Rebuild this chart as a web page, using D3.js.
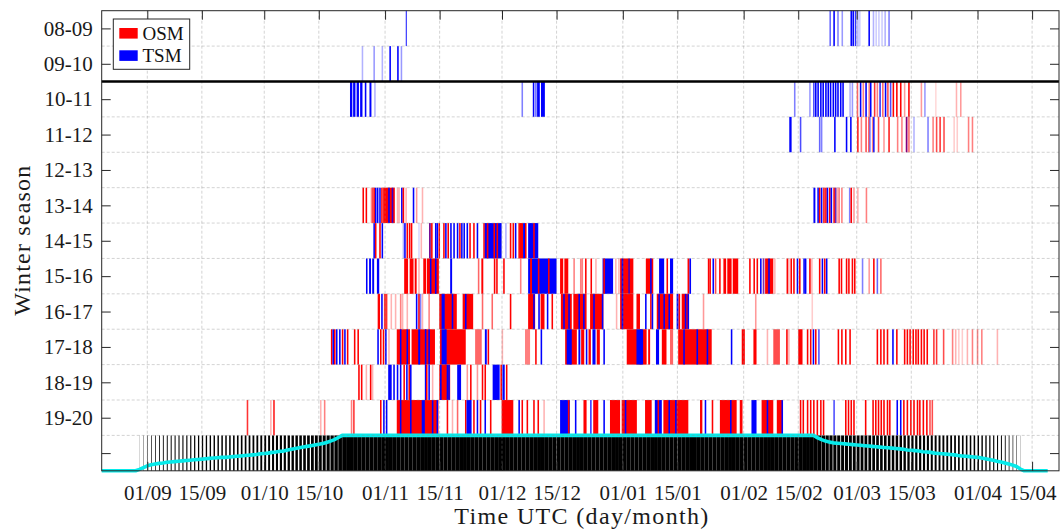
<!DOCTYPE html>
<html><head><meta charset="utf-8">
<script src="https://cdn.jsdelivr.net/npm/d3@7"></script>
<style>body{margin:0;background:#fff} svg{display:block;font-family:"Liberation Serif","Times New Roman",serif}</style>
</head><body><svg id="c" width="1061" height="529"></svg>
<script>
// ---- data (days since 01 Sep) ----
const seasons = ["08-09","09-10","10-11","11-12","12-13","13-14","14-15","15-16","16-17","17-18","18-19","19-20",""];
const tickDays = [0,14,30,44,61,75,91,105,122,136,153,167,182,196,213,227];
const tickLabels = ["01/09","15/09","01/10","15/10","01/11","15/11","01/12","15/12","01/01","15/01","01/02","15/02","01/03","15/03","01/04","15/04"];
const legendNames = ["OSM","TSM"];

// entries: [day, type (O=OSM, T=TSM), opacity, width in days (default 0.4)]
const s0809 = [[66.3,'T',0.8,0.3],
[175.0,'T',0.6],[176.0,'T',1],[177.0,'T',0.5],[178.1,'T',0.4],[180.4,'T',1],[180.9,'T',1],[181.5,'T',0.8],[182.1,'T',0.3],[182.6,'T',0.2],[185.0,'T',1],[186.1,'T',0.3],[186.8,'T',0.2],[187.5,'T',0.2],[188.3,'T',0.2],[189.1,'T',0.3],[190.1,'T',0.5]];
const s0910 = [[55.0,'T',0.3],[58.0,'T',0.4],[60.1,'T',0.3],[62.1,'T',1],[64.1,'T',1],[65.0,'T',0.4]];
const s1011 = [[52.0,'T',1,0.6],[52.8,'T',1,0.6],[53.7,'T',1,0.6],[54.6,'T',1,0.6],[55.8,'T',1,0.4],[57.0,'T',1,0.5],[58.2,'T',0.3],
[96.0,'T',0.5],[98.9,'T',1],[99.5,'T',0.6],[100.0,'T',1,0.7],[101.0,'T',1,1.0],
[165.9,'T',0.5],[169.8,'T',0.4],[170.8,'T',0.7],[171.3,'T',1],[171.9,'T',1],[172.6,'T',1],[173.2,'T',1],[173.9,'T',1],[174.5,'T',1],[175.1,'T',1],[175.8,'T',1],[176.4,'T',1],[177.0,'T',1],[177.7,'T',1],[178.3,'T',1],
[180.1,'T',0.3],[180.7,'T',0.4],[182.0,'O',0.6],[182.8,'T',1],[183.5,'O',0.5],[184.2,'T',1],[185.0,'O',0.5],[185.4,'T',1],[186.4,'O',0.8],[187.1,'O',0.5],[187.8,'T',0.8],[188.5,'O',0.6],[189.2,'T',1],[189.8,'O',0.7],[190.5,'T',0.7],[191.2,'O',1],[192.1,'O',1],[193.1,'O',1],[194.1,'O',0.4],[195.2,'O',1],[198.4,'O',0.4],[199.3,'T',0.4],[202.1,'O',0.15],[207.4,'O',0.3],[208.5,'O',0.4]];
const s1112 = [[164.7,'T',1,0.6],[167.4,'T',0.7],[172.3,'T',0.6],[172.8,'T',0.5],[176.2,'T',1],[179.2,'T',1],[180.3,'T',1],
[182.1,'O',0.9],[183.0,'O',0.5],[184.2,'O',0.7],[184.9,'O',0.6],[185.2,'T',0.5],[185.9,'O',0.5],[186.2,'T',0.9],[187.4,'O',0.7],[188.8,'O',0.4],[190.1,'O',0.9],[192.3,'O',0.5],[193.4,'O',0.5],[194.6,'O',1],[194.6,'T',0.5],[195.2,'O',0.6],[196.5,'T',0.3],[200.1,'T',0.5],[201.4,'O',0.5],[202.3,'O',0.7],[203.2,'O',0.8],[204.2,'O',0.7],[206.8,'O',0.2],[207.6,'O',0.2],[210.5,'O',0.5],[211.5,'O',0.5]];
const s1213 = [];
const s1314 = [[55.2,'O',1],[56.0,'O',1],[57.3,'O',0.4],[57.6,'O',0.7],[58.0,'O',1],[58.4,'T',1],[58.9,'T',1],[59.5,'T',1],[60.0,'O',1],[60.5,'O',1,3.0],[61.8,'T',1],[62.7,'T',0.8],[64.0,'O',0.3],[64.4,'O',0.3],[65.1,'T',1],[65.5,'O',1],[66.2,'O',0.3],[68.1,'T',1],[68.9,'O',0.4],[70.4,'O',0.3],
[170.9,'T',1,0.5],[171.9,'T',1],[172.3,'O',1],[172.8,'T',1],[173.4,'O',1],[173.9,'O',1],[174.3,'T',1],[174.9,'O',1],[175.3,'T',1],[176.0,'O',1],[176.4,'O',0.6],[176.4,'T',0.6],[176.9,'O',0.3],[177.3,'O',0.5],[178.0,'O',0.5],[180.0,'T',0.5],[180.4,'O',1],[181.1,'O',0.4],[182.1,'O',0.3],[184.3,'O',0.5]];
const s1415 = [[58.0,'T',1],[58.4,'O',1],[59.5,'O',1],[60.1,'T',1],
[65.5,'T',0.3],[65.9,'T',1],[66.5,'O',1],[67.1,'O',1],[67.6,'O',1],[69.5,'T',0.15],[70.1,'O',0.3],
[72.3,'O',1],[72.3,'T',0.6],[72.8,'O',1],[73.8,'T',1],[74.2,'T',1],[74.7,'O',1],[75.9,'O',1],[76.4,'T',1],[77.0,'O',1],[77.7,'T',1],[78.5,'T',1],[79.4,'T',1],[80.0,'O',1],[80.5,'T',1],[81.1,'T',1],[81.9,'T',1],[82.6,'O',1],[83.6,'O',1],[84.5,'T',1],[86.2,'O',1],
[86.6,'T',1,4.3],[87.1,'O',1],[88.8,'O',1],[89.6,'O',1],
[91.8,'T',0.3],[93.0,'O',1],[93.7,'O',1],[94.3,'T',1],[95.2,'O',1],[95.6,'O',1,0.8],[96.4,'T',1,0.5],[96.9,'O',1],
[97.7,'T',1,2.6],[99.0,'O',1]];
const s1516 = [[56.1,'T',1,0.4],[56.9,'T',1,0.5],[57.7,'T',1,0.5],[58.9,'T',1,0.6],
[65.9,'O',1,1.0],[67.3,'O',1,1.0],[68.6,'O',1,0.5],[69.5,'O',0.3],
[70.8,'O',1,0.7],[71.7,'O',1,3.1],[72.5,'T',1],[73.8,'T',1],
[77.7,'T',1,0.5],[84.8,'O',0.6],[85.7,'O',1,0.5],[88.9,'O',1],[89.5,'O',1],[91.3,'O',1],[95.6,'O',0.5],
[97.7,'T',1,7.3],[98.2,'O',1,0.5],[100.2,'O',1],[102.8,'O',1],
[105.9,'O',1,0.8],[107.0,'O',1,1.0],[109.3,'O',0.5],[111.0,'O',0.5],[111.4,'O',0.5],[112.3,'O',1],[113.7,'O',1],[114.9,'O',0.3],
[116.8,'T',1,2.7],[117.0,'O',1],[120.0,'O',0.3],[120.8,'O',0.3],
[121.3,'O',1,3.4],[121.7,'T',1],[123.4,'T',0.7],
[127.9,'O',1,1.9],[129.0,'T',1],[131.3,'T',1,1.3],[133.2,'O',1],[134.1,'T',1,0.8],
[138.6,'O',1,0.5],[139.1,'T',1],
[143.8,'O',1],[144.2,'O',1],[145.0,'T',1],[145.6,'O',0.7],[146.7,'O',1],
[147.8,'O',1,0.7],[148.8,'O',1,1.1],[150.2,'O',1,1.4],
[154.4,'O',1],[155.5,'O',1],[156.3,'O',1],[157.2,'T',1],[157.9,'O',0.6],[157.9,'T',0.5],[158.5,'O',1,2.1],[159.3,'T',1],[160.8,'O',0.3],
[164.0,'O',1],[164.4,'O',0.3],[165.0,'O',1],[165.7,'O',1],[166.6,'T',1],[167.2,'O',1],[168.3,'T',1],[168.7,'T',1],[169.8,'O',1],[170.3,'O',0.3],
[172.3,'O',1],[173.0,'T',1],[173.6,'O',1],[174.1,'T',1],
[177.3,'O',1],[177.9,'O',1],[179.2,'O',1],[179.8,'O',1],[180.7,'O',1],[181.3,'O',1],
[183.3,'T',0.5],[185.0,'O',0.4],[186.2,'O',1],[187.1,'T',0.6],[188.0,'O',0.6]];
const s1617 = [[59.1,'O',1,0.6],[60.0,'T',1],[60.7,'O',0.8,0.9],[62.4,'O',0.3],[63.5,'O',0.3],[64.8,'O',0.5],[65.3,'O',0.3],[66.5,'O',0.3],
[68.9,'T',1],[69.5,'O',1],[69.9,'T',0.5],[70.4,'O',0.3],[72.1,'O',0.5],
[74.9,'O',1,4.5],[75.5,'T',1,0.8],[78.1,'T',1],
[80.9,'O',1,2.7],[81.5,'T',1],[85.8,'O',0.6],[88.3,'O',0.6],[93.0,'O',1],
[97.7,'O',1,1.8],[99.0,'T',1],[100.3,'T',1],[100.9,'O',1,1.0],[102.5,'T',1],[103.7,'O',1],
[106.1,'O',1,2.8],[106.7,'T',1],[108.0,'T',1],
[109.3,'O',1,3.4],[110.6,'T',1],[111.8,'T',1],
[113.6,'O',1,3.4],[114.4,'T',1],[116.6,'T',1],
[120.2,'O',0.3],[121.3,'O',1,3.4],[121.7,'T',1],
[125.5,'O',1,0.9],[127.7,'T',1],[129.0,'O',1],[129.4,'T',1],
[130.7,'O',1,4.2],[131.1,'T',1],[132.4,'T',1],[133.7,'T',1],
[135.8,'T',1,0.5],[136.3,'O',1],[137.1,'O',1,1.7],[137.9,'T',1],[138.6,'T',1],
[142.5,'O',0.4],[155.9,'O',0.4],[170.4,'O',0.2]];
const s1718 = [[47.1,'O',1],[47.5,'T',1],[47.9,'O',1],[48.4,'T',1],[49.2,'T',1],[49.9,'O',1],[50.5,'T',1],[51.2,'O',1],[53.0,'O',1],[53.9,'O',1],
[59.0,'T',1],[59.7,'O',1],[60.4,'O',1],[61.0,'T',1],[61.8,'O',0.3],
[64.0,'O',1,3.4],[64.8,'T',1],[66.5,'T',1],
[67.8,'O',1,6.0],[69.5,'T',1,0.5],[71.2,'T',1],[72.1,'T',1],
[75.1,'O',1,6.6],[75.5,'T',1,1.3],
[84.1,'O',0.6,1.7],[86.6,'T',1,0.5],[87.3,'O',1],[90.9,'O',0.3],[96.9,'O',0.5,1.3],[99.5,'O',1],[100.9,'T',1],
[107.2,'O',1,3.0],[107.6,'T',1,1.3],
[110.6,'T',1,0.5],[111.3,'O',1,0.8],[112.5,'T',1],[113.2,'O',1,0.6],[114.2,'T',1,0.8],[115.3,'O',1,0.8],[117.0,'T',1],
[123.0,'O',1,5.1],[125.5,'T',1,1.7],[128.5,'O',1,0.5],[130.5,'T',1,0.8],[132.0,'O',1,1.2],[134.1,'O',0.6,0.8],
[136.2,'O',1,8.6],[137.5,'T',1],[140.9,'T',1],[143.5,'T',1],
[149.7,'T',1],[152.5,'O',1,0.8],[155.5,'O',1,0.8],[158.9,'O',0.3],[160.6,'O',0.7,1.7],[163.9,'O',1],[164.4,'O',0.3],
[167.0,'O',1,1.1],[169.2,'O',1],[170.0,'O',1],[170.7,'T',1],[171.3,'O',1],[172.1,'T',0.7],
[177.1,'O',1],[178.0,'O',1],[179.0,'O',1],[180.1,'O',1],
[187.1,'O',1],[188.0,'O',1],[188.8,'O',1],[189.7,'O',1],[191.1,'T',1],[192.1,'O',1],[194.1,'O',1],[194.8,'O',1],[195.5,'O',1],[196.3,'O',1],[197.0,'O',1],[197.6,'O',1],[198.4,'O',1],[199.1,'O',1],[199.9,'O',1],[201.6,'O',0.8],[202.3,'O',0.8],[204.1,'O',0.7],[206.4,'O',0.5],[207.2,'O',0.3],[208.0,'O',0.2],[208.9,'O',0.2],[210.2,'O',0.3],[211.5,'O',0.5],[212.8,'O',0.5],[213.9,'O',0.5],[217.9,'O',0.3]];
const s1819 = [[54.1,'O',1],[54.8,'O',1],[56.0,'O',0.3],[57.1,'O',1],[57.6,'O',0.3],
[61.8,'T',1,0.9],[63.1,'T',1],[64.0,'T',1],[64.8,'T',1],[65.7,'O',1],[66.4,'T',1],[67.0,'O',1],[67.4,'T',1],
[71.2,'T',1],[71.5,'O',1],[72.1,'T',1],[73.0,'O',0.3],
[74.9,'O',1,2.8],[75.1,'T',1],[76.8,'T',1],[77.2,'T',1],
[79.5,'T',1,1.0],[81.9,'O',0.4],[82.8,'O',1],[84.5,'O',0.4],[85.8,'O',1],[86.5,'O',1],
[88.6,'T',1,1.8],[90.6,'O',1],[91.1,'T',1,0.6],[92.0,'O',1]];
const s1920 = [[25.5,'O',0.8],[31.5,'O',0.3],[32.3,'O',0.9],[44.3,'O',0.3],[45.3,'O',0.5],[52.2,'O',0.5],[52.8,'O',0.8],
[59.7,'O',1],[60.5,'T',1],[61.2,'T',1],
[64.0,'O',1,10.7],[64.8,'T',1],[67.4,'T',1],[70.4,'T',1,0.8],[73.0,'T',1],[74.2,'T',1],
[76.8,'O',1],[78.1,'O',0.3],[79.4,'O',0.6],
[81.5,'O',1],[81.9,'T',1,1.3],[83.6,'O',1],[84.5,'T',1],[85.3,'O',1],[86.5,'T',1],[87.9,'O',1],
[90.9,'O',1,3.0],[95.2,'T',1],[96.0,'O',1],[97.3,'O',1],[99.0,'O',1],[100.1,'O',1],[101.6,'O',0.3],
[105.9,'T',1,2.5],[107.9,'O',1],[109.7,'T',1],[111.9,'O',1,0.8],[113.6,'T',0.8],[114.4,'O',1,1.3],[117.0,'T',1],[118.7,'O',1,2.6],
[121.7,'O',1,3.9],[122.5,'T',1],[127.7,'O',1,1.7],[130.2,'T',1,1.8],[130.9,'O',1],
[132.4,'O',1,6.4],[133.7,'T',1],[135.4,'T',1],
[141.8,'O',1,0.6],[143.0,'T',1],[144.8,'O',1],
[146.9,'O',1,4.3],[149.5,'T',1],[152.0,'O',1,0.7],[155.0,'T',1,1.3],
[157.6,'O',1,3.0],[158.9,'T',1],[161.5,'O',1,1.5],[162.7,'T',1],
[167.4,'O',1],[168.1,'O',1],[169.2,'O',1],[170.0,'O',1],[170.8,'O',1],[171.7,'O',1],[172.6,'O',1],[173.3,'O',1],
[176.0,'T',0.7],
[179.0,'O',1],[179.7,'O',1],[180.4,'O',1],[181.1,'O',1],[184.1,'O',1],
[186.0,'O',1],[186.7,'O',1],[187.4,'O',1],[188.1,'O',1],[188.8,'O',1],[189.7,'O',1],[190.3,'O',1],
[192.2,'T',1],[193.1,'T',1],
[193.9,'O',1],[194.8,'O',1],[195.7,'O',1],[196.5,'O',1],[197.4,'O',1],[198.0,'O',1],[198.9,'O',1],[199.8,'O',1],[200.6,'O',0.7],[201.2,'O',0.7]];
const seasonEvents = [s0809,s0910,s1011,s1112,s1213,s1314,s1415,s1516,s1617,s1718,s1819,s1920];

// daily darkness fraction, starting at day -12
const darkStart = -12;
const darkness = [0,0,0,0,0,0,0,0,0,0,
0.04,0.09,0.14,0.17,0.19,0.21,0.22,0.24,0.25,0.26,0.27,0.28,0.29,0.30,0.31,0.32,0.33,0.34,0.35,0.36,0.37,0.38,0.38,0.39,0.40,0.41,0.42,0.43,0.44,0.45,0.46,0.48,0.49,0.50,0.52,0.53,0.55,0.56,0.59,0.61,0.63,0.65,0.67,0.69,0.71,0.73,0.75,0.77,0.80,0.84,0.88,0.94,
1,1,1,1,1,1,1,1,1,1, 1,1,1,1,1,1,1,1,1,1, 1,1,1,1,1,1,1,1,1,1, 1,1,1,1,1,1,1,1,1,1,
1,1,1,1,1,1,1,1,1,1, 1,1,1,1,1,1,1,1,1,1, 1,1,1,1,1,1,1,1,1,1, 1,1,1,1,1,1,1,1,1,1,
1,1,1,1,1,1,1,1,1,1, 1,1,1,1,1,1,1,1,1,1, 1,1,1,1,1,1,1,1,1,1, 1,1,1,1,1,1,1,1,1,1, 1,1,
0.93,0.88,0.84,0.81,0.79,0.78,0.77,0.76,0.75,0.74,0.73,0.72,0.71,0.70,0.69,0.68,0.67,0.66,0.65,0.64,0.63,0.62,0.61,0.59,0.58,0.57,0.56,0.54,0.53,0.52,0.50,0.49,0.48,0.47,0.46,0.45,0.43,0.42,0.41,0.40,0.39,0.38,0.36,0.34,0.32,0.30,0.27,0.25,0.22,0.19,0.16,0.12,0.05,
0,0,0,0,0,0,0];

// ---- layout ----
const L = 101.7, R = 1059, T = 10.7, B = 470.8;
const x = d3.scaleLinear().domain([-11.7, 233.9]).range([L, R]);
const y = d3.scaleLinear().domain([0.5, 13.5]).range([T, B]);
const rowH = y(1.5) - y(0.5);
const color = {O: "#ff0000", T: "#0000ff"};
const axisCol = "#262626";
const textCol = "#1a1a1a";

const svg = d3.select("#c");
svg.append("defs").append("clipPath").attr("id","clip")
  .append("rect").attr("x",L).attr("y",0).attr("width",R-L).attr("height",529);

const plot = svg.append("g").attr("clip-path","url(#clip)");

// season bars
seasonEvents.forEach((ev, i) => {
  const g = plot.append("g");
  g.selectAll("rect").data(ev).join("rect")
    .attr("x", d => x(d[0]))
    .attr("width", d => x(d[0] + (d[3] || 0.4)) - x(d[0]))
    .attr("y", y(i + 0.5))
    .attr("height", rowH)
    .attr("fill", d => color[d[1]])
    .attr("fill-opacity", d => d[2]);
});

// darkness row
const darkData = darkness.map((v, k) => ({day: darkStart + k, v}));
plot.append("g").selectAll("rect").data(darkData.filter(d => d.v > 0)).join("rect")
  .attr("x", d => x(d.day))
  .attr("width", d => x(d.day + d.v) - x(d.day))
  .attr("y", y(12.5)).attr("height", rowH)
  .attr("fill", "#000");

// grid on top
const grid = svg.append("g").attr("stroke","#8c8c8c").attr("stroke-opacity",0.38)
  .attr("stroke-dasharray","3,2").attr("stroke-width",1);
grid.selectAll("line.v").data(tickDays).join("line").attr("class","v")
  .attr("x1", d => x(d)).attr("x2", d => x(d)).attr("y1", T).attr("y2", B);
grid.selectAll("line.h").data(d3.range(1.5, 13.5, 1)).join("line").attr("class","h")
  .attr("x1", L).attr("x2", R).attr("y1", d => y(d)).attr("y2", d => y(d));

// cyan darkness line
plot.append("path").datum(darkData)
  .attr("fill","none").attr("stroke","#06eaea").attr("stroke-width",3.6)
  .attr("stroke-linejoin","round")
  .attr("d", d3.line().x(d => x(d.day)).y(d => y(13.5) - d.v * rowH));

// thick separator line between 09-10 and 10-11
svg.append("line").attr("x1",L).attr("x2",R).attr("y1",y(2.5)).attr("y2",y(2.5))
  .attr("stroke","#000").attr("stroke-width",2.4);

// axes box
svg.append("rect").attr("x",L).attr("y",T).attr("width",R-L).attr("height",B-T)
  .attr("fill","none").attr("stroke",axisCol).attr("stroke-width",1);

// x ticks (inward, top & bottom)
const xb = d3.axisBottom(x).tickValues(tickDays).tickFormat((d,i)=>tickLabels[i]).tickSizeInner(-9).tickSizeOuter(0).tickPadding(14);
const gxb = svg.append("g").attr("transform",`translate(0,${B})`).call(xb);
gxb.select(".domain").remove();
gxb.selectAll("line").attr("stroke",axisCol);
gxb.selectAll("text").attr("font-size",21).attr("fill",textCol).attr("font-family","Liberation Serif");
const xt = d3.axisTop(x).tickValues(tickDays).tickFormat("").tickSizeInner(-9).tickSizeOuter(0);
const gxt = svg.append("g").attr("transform",`translate(0,${T})`).call(xt);
gxt.select(".domain").remove();
gxt.selectAll("line").attr("stroke",axisCol);

// y ticks
const yl = d3.axisLeft(y).tickValues(d3.range(1,14)).tickFormat((d,i)=>seasons[i]).tickSizeInner(-9).tickSizeOuter(0).tickPadding(9);
const gyl = svg.append("g").attr("transform",`translate(${L},0)`).call(yl);
gyl.select(".domain").remove();
gyl.selectAll("line").attr("stroke",axisCol);
gyl.selectAll("text").attr("font-size",21).attr("fill",textCol).attr("font-family","Liberation Serif");
const yr = d3.axisRight(y).tickValues(d3.range(1,14)).tickFormat("").tickSizeInner(-9).tickSizeOuter(0);
const gyr = svg.append("g").attr("transform",`translate(${R},0)`).call(yr);
gyr.select(".domain").remove();
gyr.selectAll("line").attr("stroke",axisCol);

// axis titles
svg.append("text").attr("x",(L+R)/2+1).attr("y",524).attr("text-anchor","middle")
  .attr("font-size",24).attr("fill",textCol).attr("textLength",254).attr("lengthAdjust","spacing")
  .text("Time UTC (day/month)");
svg.append("text").attr("transform",`translate(30,${(T+B)/2}) rotate(-90)`).attr("text-anchor","middle")
  .attr("font-size",24).attr("fill",textCol).attr("textLength",150).attr("lengthAdjust","spacing")
  .text("Winter season");

// legend
const lg = svg.append("g");
lg.append("rect").attr("x",113.3).attr("y",19).attr("width",76.4).attr("height",50.3)
  .attr("fill","#fff").attr("stroke",axisCol).attr("stroke-width",1);
legendNames.forEach((n,i)=>{
  lg.append("rect").attr("x",119.3).attr("y",28 + i*22.3).attr("width",18.4).attr("height",10.6)
    .attr("fill", i===0 ? color.O : color.T);
  lg.append("text").attr("x",142.5).attr("y",40 + i*22.3).attr("font-size",19).attr("fill","#111").text(n);
});
</script></body></html>
